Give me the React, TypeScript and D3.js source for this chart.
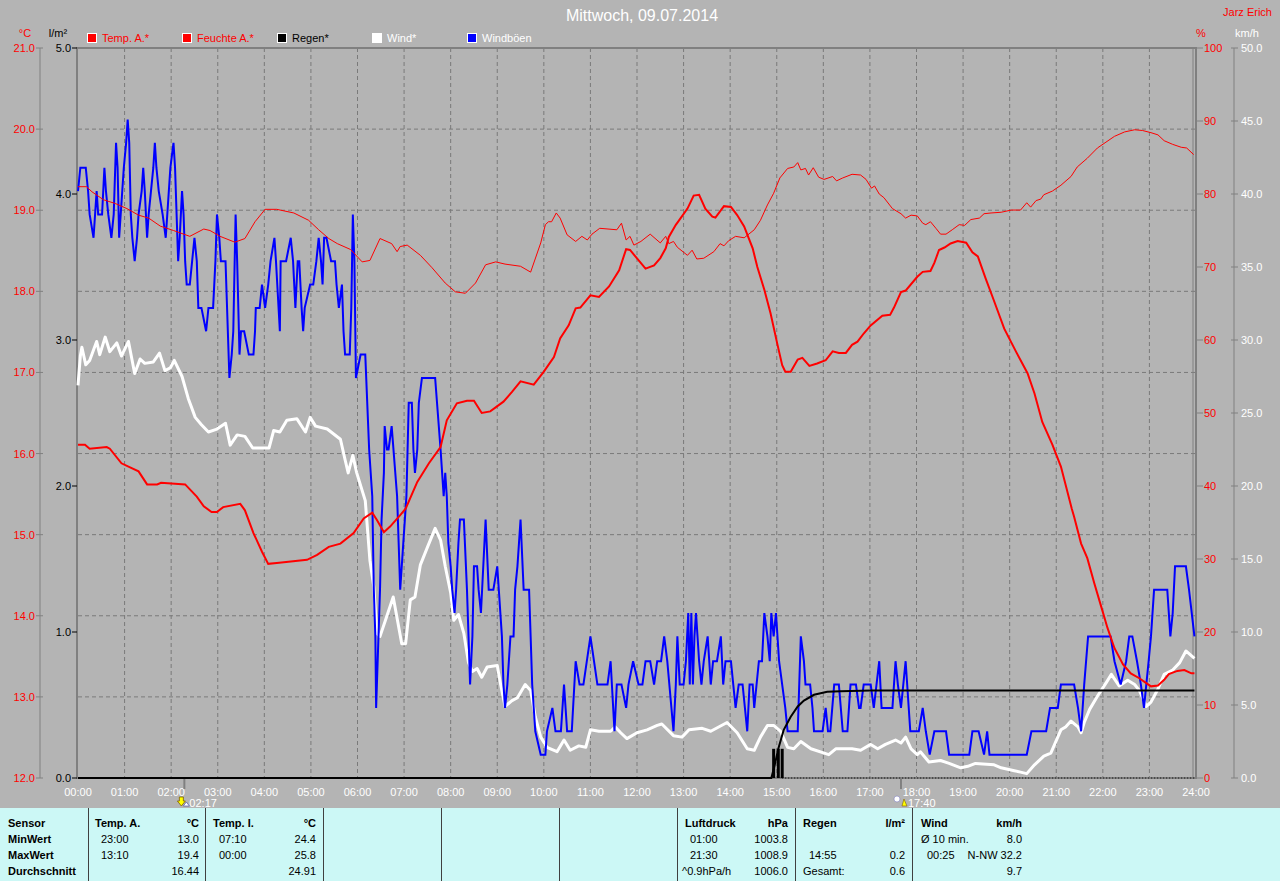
import React from 'react';
import * as d3 from 'd3';

// ---------- data (minute of day, value) ----------
const tempData: [number, number][] = [
  [0,16.11],[9,16.11],[15,16.06],[37,16.08],[41,16.06],[56,15.88],[65,15.84],[78,15.78],[89,15.62],[102,15.62],[107,15.64],[138,15.62],[153,15.47],[162,15.35],[172,15.28],[179,15.28],[187,15.34],[209,15.38],[215,15.30],[226,15.02],[237,14.79],[245,14.64],[256,14.65],[295,14.69],[308,14.75],[323,14.85],[338,14.89],[355,15.02],[368,15.20],[379,15.27],[385,15.18],[394,15.03],[402,15.10],[415,15.24],[422,15.32],[437,15.65],[452,15.88],[467,16.08],[475,16.41],[488,16.62],[501,16.65],[510,16.65],[520,16.50],[531,16.52],[548,16.64],[559,16.76],[570,16.89],[587,16.85],[600,17.01],[613,17.19],[621,17.42],[632,17.58],[641,17.79],[647,17.80],[660,17.95],[671,17.93],[684,18.06],[697,18.26],[706,18.52],[711,18.51],[731,18.28],[742,18.32],[750,18.41],[757,18.53],[761,18.67],[770,18.82],[776,18.90],[785,19.02],[793,19.18],[800,19.19],[808,19.02],[817,18.92],[821,18.91],[832,19.05],[841,19.04],[849,18.94],[858,18.80],[869,18.53],[875,18.30],[884,18.02],[892,17.73],[901,17.34],[907,17.09],[911,17.01],[918,17.01],[927,17.16],[933,17.18],[942,17.08],[952,17.11],[963,17.15],[972,17.26],[980,17.24],[989,17.24],[997,17.34],[1004,17.38],[1012,17.48],[1021,17.58],[1036,17.70],[1046,17.71],[1051,17.80],[1060,17.99],[1066,18.01],[1081,18.18],[1088,18.24],[1098,18.25],[1103,18.35],[1109,18.51],[1116,18.54],[1124,18.59],[1133,18.62],[1144,18.60],[1152,18.48],[1159,18.43],[1169,18.16],[1178,17.93],[1193,17.54],[1208,17.26],[1223,16.99],[1232,16.74],[1242,16.39],[1255,16.11],[1266,15.84],[1280,15.32],[1283,15.22],[1292,14.89],[1300,14.71],[1309,14.40],[1318,14.11],[1326,13.85],[1335,13.60],[1346,13.40],[1356,13.29],[1367,13.23],[1376,13.17],[1382,13.13],[1391,13.14],[1399,13.21],[1405,13.28],[1416,13.32],[1425,13.33],[1434,13.29],[1438,13.29]
];

const humidityData: [number, number][] = [
  [0,81.0],[11,81.0],[18,80.3],[33,79.2],[48,78.7],[63,78.0],[78,77.1],[91,76.7],[106,75.6],[123,75.0],[144,74.2],[162,75.2],[170,75.0],[183,74.2],[202,73.4],[215,73.9],[228,76.2],[241,77.9],[256,77.9],[278,77.4],[297,76.4],[310,75.1],[323,73.9],[334,73.2],[351,72.4],[366,70.7],[376,70.9],[389,73.9],[404,73.2],[411,72.1],[415,72.8],[424,73.0],[441,71.6],[456,69.9],[473,67.8],[486,66.6],[499,66.4],[512,67.8],[525,70.3],[538,70.7],[550,70.4],[570,70.1],[583,69.3],[596,73.3],[602,75.8],[606,76.2],[610,76.2],[616,77.4],[621,76.7],[630,74.4],[641,73.5],[649,74.2],[656,73.7],[662,74.5],[672,75.3],[694,75.1],[700,76.0],[706,73.7],[711,74.2],[716,73.0],[725,73.5],[737,74.5],[750,73.3],[757,74.2],[761,73.2],[767,73.5],[772,72.7],[785,71.6],[791,72.3],[797,71.1],[806,71.2],[819,72.1],[827,73.2],[832,72.9],[838,73.6],[847,74.2],[858,74.0],[871,75.1],[879,76.4],[888,78.5],[896,80.1],[904,82.2],[914,83.5],[922,83.7],[927,84.3],[931,83.3],[937,83.5],[941,82.6],[947,83.6],[954,82.3],[961,82.0],[972,82.4],[977,81.8],[985,82.2],[997,82.7],[1008,82.6],[1015,82.0],[1022,80.8],[1026,81.1],[1032,80.0],[1038,79.5],[1049,78.0],[1060,77.3],[1066,76.7],[1073,77.1],[1081,77.0],[1088,76.0],[1092,75.8],[1098,76.2],[1105,75.3],[1111,74.5],[1118,74.5],[1126,75.1],[1135,75.8],[1142,75.7],[1150,76.5],[1161,76.7],[1167,77.3],[1176,77.4],[1189,77.5],[1202,77.8],[1214,77.8],[1222,78.8],[1227,78.2],[1234,79.1],[1240,79.3],[1244,79.9],[1255,80.4],[1266,81.2],[1279,82.4],[1287,83.7],[1300,84.9],[1313,86.3],[1324,87.1],[1335,87.9],[1348,88.5],[1361,88.8],[1371,88.7],[1382,88.4],[1391,88.1],[1399,87.3],[1410,86.8],[1421,86.4],[1428,86.3],[1437,85.4]
];

const rainTotal: [number, number][] = [
  [0,0],[893,0],[897,0.08],[902,0.2],[909,0.33],[918,0.42],[927,0.49],[935,0.53],[948,0.57],[965,0.59],[982,0.595],[1021,0.6],[1438,0.6]
];
const rainBars: [number, number][] = [[896,0.2],[902,0.2],[907,0.2]];

const windData: [number, number][] = [
  [0,26.9],[3,28.9],[5,29.5],[10,28.3],[15,28.6],[24,29.9],[28,29.0],[35,30.2],[41,29.2],[50,29.8],[56,28.9],[65,29.9],[73,27.7],[80,28.7],[86,28.4],[97,28.5],[105,29.1],[112,27.9],[119,28.1],[124,28.6],[134,27.5],[142,26.0],[151,24.7],[159,24.2],[168,23.7],[179,23.9],[190,24.3],[196,22.8],[205,23.5],[215,23.4],[225,22.6],[237,22.6],[246,22.6],[252,23.8],[260,23.7],[269,24.5],[282,24.6],[293,23.7],[299,24.7],[306,24.1],[321,23.9],[338,23.2],[344,21.8],[348,20.9],[354,22.1],[359,20.9],[370,19.0],[376,14.9],[381,13.1],[385,9.9],[389,9.7],[396,10.8],[406,12.4],[417,9.2],[422,9.2],[428,12.2],[434,12.4],[441,14.6],[450,15.8],[460,17.1],[467,16.3],[473,14.5],[480,12.7],[484,10.8],[490,11.2],[497,9.9],[503,7.9],[508,7.3],[514,7.5],[520,6.9],[527,7.6],[540,7.7],[544,6.5],[550,4.9],[559,5.3],[566,5.5],[576,6.4],[583,6.0],[589,4.2],[596,2.8],[604,2.1],[617,1.8],[626,2.6],[634,1.9],[645,2.2],[654,2.1],[660,3.3],[671,3.2],[686,3.2],[692,3.5],[699,3.1],[707,2.7],[720,3.1],[733,3.3],[746,3.6],[752,3.7],[767,2.9],[778,2.8],[787,3.3],[804,3.4],[815,3.2],[836,3.8],[849,3.1],[862,2.0],[871,1.9],[879,2.8],[888,3.6],[896,3.6],[905,3.2],[914,2.1],[922,2.0],[931,2.5],[944,2.0],[967,1.6],[976,2.0],[997,2.0],[1008,1.9],[1021,2.3],[1030,2.0],[1040,2.3],[1053,2.6],[1060,2.4],[1066,2.8],[1073,2.0],[1081,1.6],[1085,1.8],[1096,1.1],[1111,1.2],[1122,1.0],[1137,0.7],[1146,0.8],[1156,1.0],[1180,0.9],[1189,0.7],[1206,0.5],[1214,0.4],[1222,0.3],[1232,0.9],[1244,1.5],[1253,1.7],[1266,3.3],[1272,3.5],[1279,3.9],[1288,3.5],[1292,3.1],[1296,3.8],[1303,4.7],[1313,5.6],[1324,6.5],[1331,7.1],[1341,6.3],[1352,6.7],[1361,6.4],[1367,6.0],[1376,4.9],[1382,5.2],[1391,6.1],[1399,7.1],[1410,7.4],[1419,7.9],[1427,8.7],[1438,8.2]
];

const gustData: [number, number][] = [
  [0,40.2],[3,41.8],[10,41.8],[13,40.2],[15,38.6],[20,37.0],[22,38.6],[24,40.2],[26,38.6],[31,38.6],[34,41.8],[36,40.2],[39,38.6],[43,37.0],[46,38.6],[49,43.5],[51,41.8],[53,37.0],[55,38.6],[59,41.8],[62,43.5],[64,45.1],[66,43.5],[68,38.6],[70,37.0],[73,35.4],[76,37.0],[78,38.6],[82,40.2],[84,41.8],[86,40.2],[89,37.0],[91,38.6],[94,40.2],[97,41.8],[99,43.5],[101,41.8],[104,40.2],[109,38.6],[113,37.0],[115,38.6],[119,41.8],[123,43.5],[125,41.8],[127,38.6],[129,35.4],[131,37.0],[134,40.2],[136,38.6],[138,35.4],[140,33.8],[144,33.8],[147,35.4],[150,37.0],[153,35.4],[155,32.2],[159,32.2],[165,30.6],[168,32.2],[174,32.2],[177,35.4],[179,38.6],[182,37.0],[184,35.4],[190,35.4],[195,27.4],[198,29.0],[200,30.6],[203,38.6],[205,35.4],[208,29.0],[210,30.6],[214,30.6],[220,29.0],[226,29.0],[228,30.6],[229,32.2],[234,32.2],[237,33.8],[241,32.2],[245,33.8],[248,35.4],[253,37.0],[255,35.4],[260,30.6],[261,35.4],[268,35.4],[274,37.0],[277,35.4],[280,32.2],[283,35.4],[285,35.4],[288,32.2],[290,30.6],[292,32.2],[299,33.8],[303,33.8],[307,35.4],[310,37.0],[313,35.4],[315,33.8],[317,37.0],[320,37.0],[326,35.4],[331,35.4],[333,33.8],[336,32.2],[340,33.8],[342,30.6],[344,29.0],[350,29.0],[352,32.2],[354,38.6],[356,35.4],[358,27.4],[364,29.0],[370,29.0],[375,22.5],[379,19.3],[381,12.9],[383,9.7],[384,4.8],[389,12.9],[391,17.7],[394,20.9],[395,24.1],[398,22.5],[400,22.5],[404,24.1],[411,19.3],[413,16.1],[415,12.9],[419,16.1],[423,19.3],[426,25.7],[430,25.7],[432,22.5],[434,20.9],[437,22.5],[439,25.7],[443,27.4],[460,27.4],[467,22.5],[469,20.9],[471,19.3],[473,20.9],[475,19.3],[477,16.1],[480,14.5],[482,12.9],[485,11.3],[487,12.9],[490,16.1],[492,17.7],[497,17.7],[501,12.9],[503,9.7],[505,6.4],[508,9.7],[510,14.5],[514,14.5],[516,12.9],[519,11.3],[522,14.5],[525,17.7],[529,12.9],[535,12.9],[540,14.5],[542,12.9],[546,9.7],[548,6.4],[550,4.8],[553,6.4],[557,9.7],[561,9.7],[563,12.9],[566,14.5],[568,16.1],[570,17.7],[574,12.9],[581,12.9],[583,9.7],[585,6.4],[589,3.2],[596,1.6],[602,1.6],[604,3.2],[611,4.8],[615,3.2],[622,3.2],[626,6.4],[630,3.2],[636,3.2],[641,8.0],[646,6.4],[651,6.4],[660,9.7],[669,6.4],[682,6.4],[686,8.0],[691,3.2],[694,6.4],[700,6.4],[706,4.8],[709,6.4],[715,8.0],[722,6.4],[727,6.4],[731,8.0],[737,8.0],[742,6.4],[746,8.0],[751,8.0],[755,9.7],[759,8.0],[767,3.2],[770,6.4],[772,9.7],[775,6.4],[780,6.4],[783,8.0],[786,11.3],[788,6.4],[790,11.3],[792,6.4],[794,9.7],[796,11.3],[800,8.0],[803,6.4],[806,8.0],[811,9.7],[815,6.4],[818,8.0],[823,8.0],[828,9.7],[831,6.4],[834,8.0],[841,8.0],[844,6.4],[847,4.8],[851,6.4],[856,6.4],[859,4.8],[862,3.2],[865,6.4],[869,6.4],[871,4.8],[877,8.0],[881,8.0],[884,11.3],[888,9.7],[891,8.0],[893,11.3],[896,9.7],[899,11.3],[903,8.0],[907,6.4],[911,4.8],[914,3.2],[927,3.2],[931,9.7],[935,8.0],[937,6.4],[943,6.4],[946,4.8],[948,3.2],[959,3.2],[963,4.8],[966,3.2],[969,3.2],[974,6.4],[980,6.4],[985,3.2],[991,3.2],[995,6.4],[1002,6.4],[1006,4.8],[1008,4.8],[1012,6.4],[1021,6.4],[1025,4.8],[1032,8.0],[1035,4.8],[1049,4.8],[1053,8.0],[1056,6.4],[1060,4.8],[1066,8.0],[1072,3.2],[1083,3.2],[1088,4.8],[1092,3.2],[1097,1.6],[1103,3.2],[1118,3.2],[1122,1.6],[1148,1.6],[1152,3.2],[1160,3.2],[1167,1.6],[1171,3.2],[1174,1.6],[1222,1.6],[1228,3.2],[1247,3.2],[1252,4.8],[1262,4.8],[1266,6.4],[1283,6.4],[1288,4.8],[1292,3.2],[1296,6.4],[1301,9.7],[1330,9.7],[1335,8.0],[1343,6.4],[1350,8.0],[1354,9.7],[1358,9.7],[1364,8.0],[1369,6.4],[1373,4.8],[1379,8.0],[1382,9.7],[1386,12.9],[1403,12.9],[1407,9.7],[1410,11.3],[1413,14.5],[1427,14.5],[1431,12.9],[1438,9.7]
];

// ---------- ticks / labels ----------
const hourTicks = d3.range(0, 25);
const tempTicks = d3.range(12, 22);
const rainTicks = [0, 1, 2, 3, 4, 5];
const humTicks = d3.range(0, 101, 10);
const windTicks = d3.range(0, 51, 5);
const legendLabels = ['Temp. A.*', 'Feuchte A.*', 'Regen*', 'Wind*', 'Windböen'];
const sunTimes = ['02:17', '17:40'];
const titleText = 'Mittwoch, 09.07.2014';
const authorText = 'Jarz Erich';

const tableRowLabels = ['Sensor', 'MinWert', 'MaxWert', 'Durchschnitt'];
const tempA = { head: ['Temp. A.', '°C'], rows: [['23:00', '13.0'], ['13:10', '19.4'], ['', '16.44']] };
const tempI = { head: ['Temp. I.', '°C'], rows: [['07:10', '24.4'], ['00:00', '25.8'], ['', '24.91']] };
const druck = { head: ['Luftdruck', 'hPa'], rows: [['01:00', '1003.8'], ['21:30', '1008.9'], ['^0.9hPa/h', '1006.0']] };
const regen = { head: ['Regen', 'l/m²'], rows: [['', ''], ['14:55', '0.2'], ['Gesamt:', '0.6']] };
const wind = { head: ['Wind', 'km/h'], rows: [['Ø 10 min.', '8.0'], ['00:25', 'N-NW 32.2'], ['', '9.7']] };
const tableDividers = [88, 205, 323, 441, 559, 677, 795, 912];

// ---------- layout ----------
const W = 1280, H = 881;
const PL = 78, PR = 1196, PT = 48, PB = 778;
const BG = '#b4b4b4';
const GRID = '#7a7a7a';
const FONT = "'Liberation Sans', Arial, sans-serif";

const x = d3.scaleLinear().domain([0, 1440]).range([PL, PR]);
const yT = d3.scaleLinear().domain([12, 21]).range([PB, PT]);
const yR = d3.scaleLinear().domain([0, 5]).range([PB, PT]);
const yH = d3.scaleLinear().domain([0, 100]).range([PB, PT]);
const yW = d3.scaleLinear().domain([0, 50]).range([PB, PT]);

const lineFor = (ys: d3.ScaleLinear<number, number>) =>
  d3.line<[number, number]>().x(d => x(d[0])).y(d => ys(d[1]));

const hhmm = (s: string) => { const [h, m] = s.split(':').map(Number); return h * 60 + m; };

function TableCol({ data, x0, x1, valueX }: any) {
  const rowsY = [823, 839, 855, 871];
  return (
    <g fontFamily={FONT} fontSize={11} fill="#000">
      <text x={x0} y={rowsY[0]} fontWeight="bold" dominantBaseline="central">{data.head[0]}</text>
      <text x={x1} y={rowsY[0]} fontWeight="bold" textAnchor="end" dominantBaseline="central">{data.head[1]}</text>
      {data.rows.map((r: string[], i: number) => (
        <g key={i}>
          <text x={valueX(r[0])} y={rowsY[i + 1]} dominantBaseline="central">{r[0]}</text>
          <text x={x1} y={rowsY[i + 1]} textAnchor="end" dominantBaseline="central">{r[1]}</text>
        </g>
      ))}
    </g>
  );
}

export default function App() {
  const tempPath = lineFor(yT)(tempData) || '';
  const humPath = lineFor(yH)(humidityData) || '';
  const rainPath = lineFor(yR)(rainTotal) || '';
  const windPath = lineFor(yW)(windData) || '';
  const gustPath = lineFor(yW)(gustData) || '';
  const legendColors = ['#ff0000', '#ff0000', '#000000', '#ffffff', '#0000ff'];
  const legendText = ['#ff0000', '#ff0000', '#000000', '#ffffff', '#ffffff'];

  return (
    <svg width={W} height={H} style={{ position: 'absolute', left: 0, top: 0 }} fontFamily={FONT}>
      <rect x={0} y={0} width={W} height={H} fill={BG} />

      {/* title */}
      <text x={642} y={15} fill="#fff" fontSize={16} textAnchor="middle" dominantBaseline="central">{titleText}</text>
      <text x={1272} y={12} fill="#ff0000" fontSize={11} textAnchor="end" dominantBaseline="central">{authorText}</text>

      {/* unit labels */}
      <text x={25} y={33} fill="#ff0000" fontSize={11} textAnchor="middle" dominantBaseline="central">°C</text>
      <text x={58} y={33} fill="#000" fontSize={11} textAnchor="middle" dominantBaseline="central">l/m²</text>
      <text x={1201} y={33} fill="#ff0000" fontSize={11} textAnchor="middle" dominantBaseline="central">%</text>
      <text x={1247} y={33} fill="#fff" fontSize={11} textAnchor="middle" dominantBaseline="central">km/h</text>

      {/* legend */}
      {legendLabels.map((l, i) => (
        <g key={l} transform={`translate(${87 + i * 95},0)`}>
          <rect x={0.5} y={33.5} width={9} height={9} fill={legendColors[i]} stroke="#fff" strokeWidth={1} />
          <text x={15} y={38} fill={legendText[i]} fontSize={11} dominantBaseline="central">{l}</text>
        </g>
      ))}

      {/* grid */}
      {hourTicks.slice(1, -1).map(h => (
        <line key={'v' + h} x1={x(h * 60)} x2={x(h * 60)} y1={PT} y2={PB} stroke={GRID} strokeDasharray="4,3" />
      ))}
      {tempTicks.slice(1, -1).map(t => (
        <line key={'h' + t} x1={PL} x2={PR} y1={yT(t)} y2={yT(t)} stroke={GRID} strokeDasharray="4,3" />
      ))}

      {/* plot border */}
      <rect x={PL - 1} y={PT} width={PR - PL + 1} height={PB - PT} fill="none" stroke="#808080" strokeWidth={2} />
      <line x1={PR - 3} x2={PR - 3} y1={PT} y2={PB} stroke="#808080" strokeWidth={1} />

      {/* left temperature axis */}
      <line x1={40} x2={40} y1={PT} y2={PB} stroke="#808080" />
      {tempTicks.map(t => (
        <g key={'tt' + t}>
          <line x1={36} x2={43} y1={yT(t)} y2={yT(t)} stroke="#808080" />
          <text x={35} y={yT(t)} fill="#ff0000" fontSize={11} textAnchor="end" dominantBaseline="central">{t.toFixed(1)}</text>
        </g>
      ))}
      {/* rain axis */}
      {rainTicks.map(t => (
        <g key={'rt' + t}>
          <line x1={72} x2={77} y1={yR(t)} y2={yR(t)} stroke="#000" />
          <text x={71} y={yR(t)} fill="#000" fontSize={11} textAnchor="end" dominantBaseline="central">{t.toFixed(1)}</text>
        </g>
      ))}
      {/* humidity axis */}
      {humTicks.map(t => (
        <g key={'ht' + t}>
          <line x1={PR + 1} x2={PR + 7} y1={yH(t)} y2={yH(t)} stroke="#808080" />
          <text x={1204} y={yH(t)} fill="#ff0000" fontSize={11} dominantBaseline="central">{t}</text>
        </g>
      ))}
      {/* wind axis */}
      <line x1={1234} x2={1234} y1={PT} y2={PB} stroke="#808080" />
      {windTicks.map(t => (
        <g key={'wt' + t}>
          <line x1={1231} x2={1238} y1={yW(t)} y2={yW(t)} stroke="#808080" />
          <text x={1241} y={yW(t)} fill="#fff" fontSize={11} dominantBaseline="central">{t.toFixed(1)}</text>
        </g>
      ))}

      {/* x axis labels */}
      {hourTicks.map(h => (
        <text key={'xl' + h} x={x(h * 60)} y={792} fill="#fff" fontSize={11} textAnchor="middle" dominantBaseline="central">
          {String(h).padStart(2, '0') + ':00'}
        </text>
      ))}

      {/* sunrise / sunset markers */}
      {sunTimes.map((s, i) => {
        const sx = x(hhmm(s));
        return (
          <g key={s}>
            <line x1={sx} x2={sx} y1={PB} y2={789} stroke="#808080" strokeWidth={2} />
            {i === 0 ? (
              <g>
                <polygon points={`${sx - 5},797 ${sx - 1},797 ${sx - 1},801 ${sx + 1},801 ${sx - 3},806 ${sx - 7},801 ${sx - 5},801`} fill="#ffff00" stroke="#806000" strokeWidth={0.8} />
                <polygon points={`${sx - 1},806 ${sx + 2},802 ${sx + 5},806`} fill="#fff" stroke="#4040a0" strokeWidth={0.6} />
              </g>
            ) : (
              <g>
                <circle cx={sx - 4} cy={799} r={3} fill="#fff" stroke="#8080c0" strokeWidth={0.6} />
                <polygon points={`${sx + 1},806 ${sx + 3},799 ${sx + 6},806`} fill="#ffff00" stroke="#806000" strokeWidth={0.6} />
              </g>
            )}
            <text x={sx + (i === 0 ? 5 : 7)} y={803} fill="#fff" fontSize={11} dominantBaseline="central">{s}</text>
          </g>
        );
      })}

      {/* series */}
      <path d={windPath} fill="none" stroke="#fff" strokeWidth={3} strokeLinejoin="round" />
      <path d={gustPath} fill="none" stroke="#0000ff" strokeWidth={2} />
      <line x1={x(907)} x2={PR} y1={PB} y2={PB} stroke="#000" strokeWidth={1} strokeDasharray="1,2" />
      {rainBars.map(([m, v]) => (
        <rect key={'rb' + m} x={x(m) - 1.5} y={yR(v)} width={3} height={PB - yR(v)} fill="#000" />
      ))}
      <path d={rainPath} fill="none" stroke="#000" strokeWidth={2} />
      <path d={humPath} fill="none" stroke="#ff0000" strokeWidth={1} />
      <path d={tempPath} fill="none" stroke="#ff0000" strokeWidth={2} />

      {/* bottom table */}
      <rect x={0} y={808} width={W} height={H - 808} fill="#ccf8f6" />
      {tableDividers.map(d => (
        <line key={'td' + d} x1={d + 0.5} x2={d + 0.5} y1={808} y2={H} stroke="#404040" />
      ))}
      <g fontFamily={FONT} fontSize={11} fontWeight="bold" fill="#000">
        {tableRowLabels.map((l, i) => (
          <text key={l} x={8} y={823 + i * 16} dominantBaseline="central">{l}</text>
        ))}
      </g>
      <TableCol data={tempA} x0={95} x1={199} valueX={() => 101} />
      <TableCol data={tempI} x0={213} x1={316} valueX={() => 219} />
      <TableCol data={druck} x0={685} x1={788} valueX={(s: string) => (s.startsWith('^') ? 682 : 690)} />
      <TableCol data={regen} x0={803} x1={905} valueX={(s: string) => (s.startsWith('G') ? 803 : 809)} />
      <TableCol data={wind} x0={921} x1={1022} valueX={(s: string) => (s.startsWith('Ø') ? 921 : 927)} />
    </svg>
  );
}
